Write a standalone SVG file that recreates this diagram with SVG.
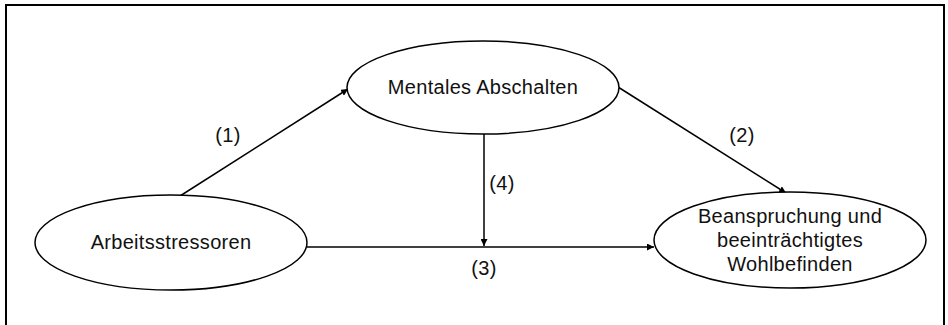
<svg xmlns="http://www.w3.org/2000/svg" width="948" height="325" viewBox="0 0 948 325">
<style>
.node ellipse{fill:#fff;stroke:#000;stroke-width:1.5}
text{font-family:"Liberation Sans",Arial,sans-serif;font-size:20px;letter-spacing:0.3px;fill:#111;text-anchor:middle}
.conn line{stroke:#000;stroke-width:1.5;marker-end:url(#ah)}
</style>
<defs>
<marker id="ah" viewBox="0 0 10 10" refX="10" refY="5" markerWidth="7" markerHeight="7" markerUnits="userSpaceOnUse" orient="auto">
<path d="M0,0 L10,5 L0,10 z" fill="#000"/>
</marker>
</defs>
<rect width="948" height="325" fill="#fff"/>
<path d="M6,325 V5 H944 V325" fill="none" stroke="#000" stroke-width="2"/>
<g class="conn" id="connectors">
<line x1="180" y1="196" x2="348" y2="89"/>
<line x1="618" y1="87" x2="786" y2="193"/>
<line x1="307" y1="247" x2="654" y2="247"/>
<line x1="484" y1="134" x2="484" y2="246"/>
<text x="228" y="142">(1)</text>
<text x="742" y="142">(2)</text>
<text x="484" y="275">(3)</text>
<text x="502" y="190">(4)</text>
</g>
<g class="node" id="mentales">
<ellipse cx="483" cy="87.5" rx="136" ry="46.5"/>
<text x="483" y="94">Mentales Abschalten</text>
</g>
<g class="node" id="arbeit">
<ellipse cx="171" cy="242.5" rx="136" ry="47.5"/>
<text x="171" y="249">Arbeitsstressoren</text>
</g>
<g class="node" id="beanspruchung">
<ellipse cx="790" cy="240" rx="136" ry="48"/>
<text x="790" y="223">Beanspruchung und</text>
<text x="790" y="247">beeinträchtigtes</text>
<text x="790" y="271">Wohlbefinden</text>
</g>
</svg>
